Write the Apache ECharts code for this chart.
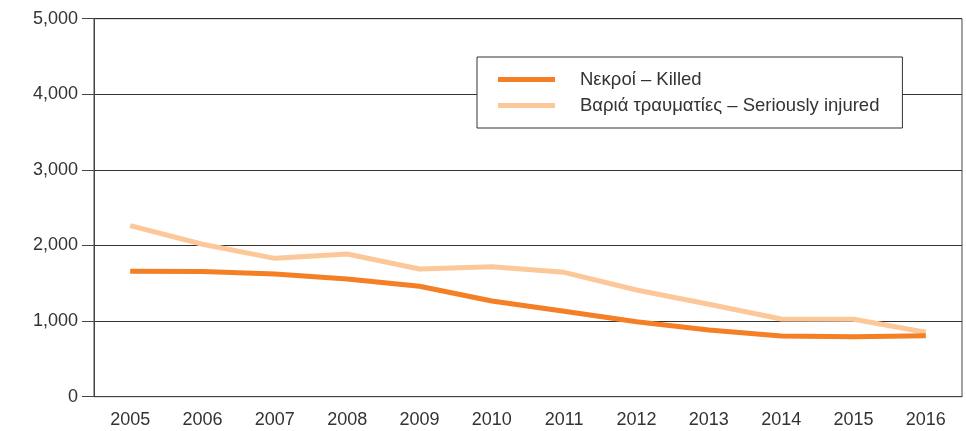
<!DOCTYPE html>
<html>
<head>
<meta charset="utf-8">
<script src="https://cdn.jsdelivr.net/npm/echarts@6/dist/echarts.min.js"></script>
<style>
  html, body { margin: 0; padding: 0; background: #fff; }
  #chart { width: 966px; height: 431px; }
</style>
</head>
<body>
<div id="chart"></div>
<script>
// Years on the x axis
const years = ["2005", "2006", "2007", "2008", "2009", "2010", "2011", "2012", "2013", "2014", "2015", "2016"];

const killed = [1660, 1657, 1623, 1557, 1460, 1266, 1130, 992, 882, 803, 794, 807];
const injured = [2262, 2016, 1830, 1887, 1689, 1720, 1645, 1411, 1222, 1028, 1024, 852];

const seriesNames = ["Νεκροί – Killed", "Βαριά τραυματίες – Seriously injured"];

const fontFamily = "'Liberation Sans', Arial, sans-serif";

const myChart = echarts.init(document.getElementById("chart"));

myChart.setOption({
  animation: false,
  grid: {
    left: 94,
    right: 4,
    top: 18.7,
    bottom: 34.3,
    show: true,
    borderColor: "#444",
    borderWidth: 1,
  },
  legend: {
    orient: "vertical",
    left: 477,
    top: 57,
    padding: [13, 23, 13, 21],
    itemGap: 7,
    itemWidth: 57,
    itemHeight: 5,
    icon: "rect",
    backgroundColor: "#fff",
    borderColor: "#333",
    borderWidth: 1,
    textStyle: {
      fontFamily: fontFamily,
      fontSize: 18.5,
      color: "#333",
      padding: [0, 0, 0, 20],
    },
    data: seriesNames,
  },
  xAxis: {
    type: "category",
    data: years,
    boundaryGap: true,
    axisLine: { lineStyle: { color: "#444", width: 1 } },
    axisTick: { length: 10, lineStyle: { color: "#444" } },
    axisLabel: {
      fontFamily: fontFamily,
      fontSize: 18,
      color: "#333",
      margin: 14,
    },
  },
  yAxis: {
    type: "value",
    min: 0,
    max: 5000,
    interval: 1000,
    axisLine: { show: true, lineStyle: { color: "#444", width: 1 } },
    axisTick: { show: true, length: 12, lineStyle: { color: "#444" } },
    axisLabel: {
      fontFamily: fontFamily,
      fontSize: 18,
      color: "#333",
      margin: 16,
      formatter: (v) => v.toLocaleString("en-US"),
    },
    splitLine: { lineStyle: { color: "#333", width: 1 } },
  },
  series: [
    {
      name: seriesNames[0],
      type: "line",
      data: killed,
      showSymbol: false,
      z: 3,
      color: "#F47F24",
      lineStyle: { width: 5, color: "#F47F24" },
    },
    {
      name: seriesNames[1],
      type: "line",
      data: injured,
      showSymbol: false,
      z: 2,
      color: "#FDC899",
      lineStyle: { width: 5, color: "#FDC899" },
    },
  ],
});
</script>
</body>
</html>
